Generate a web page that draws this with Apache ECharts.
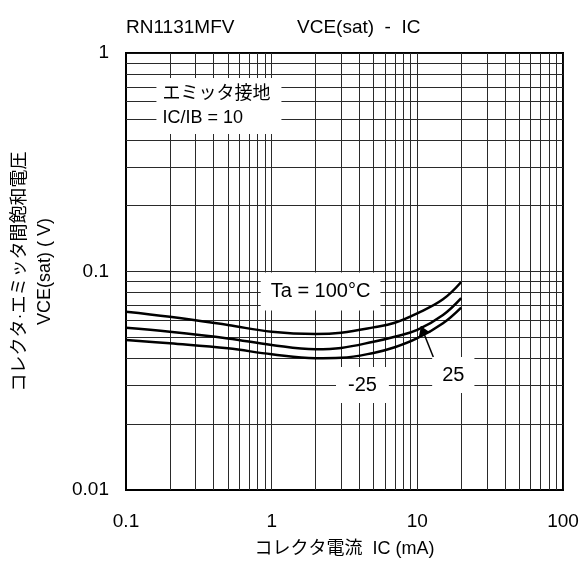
<!DOCTYPE html>
<html>
<head>
<meta charset="utf-8">
<script src="https://cdn.jsdelivr.net/npm/echarts@6/dist/echarts.min.js"></script>
<style>html,body{margin:0;padding:0;background:#fff}#c{width:584px;height:565px}</style>
</head>
<body>
<div id="c"></div>
<script>
// ---- data ----
var currentMA = [0.1, 0.2, 0.5, 1, 2, 3, 5, 7, 10, 15, 20];
var vce100 = [0.0655, 0.0621, 0.0569, 0.0530, 0.0518, 0.0525, 0.0555, 0.0583, 0.0644, 0.0746, 0.0895];
var vce25  = [0.0553, 0.0530, 0.0494, 0.0461, 0.0441, 0.0447, 0.0477, 0.0503, 0.0540, 0.0632, 0.0755];
var vceM25 = [0.0486, 0.0469, 0.0445, 0.0418, 0.0401, 0.0403, 0.0424, 0.0450, 0.0495, 0.0580, 0.0684];
var xTickLabels = {'-1': '0.1', '0': '1', '1': '10', '2': '100'};
var yTickLabels = {'-2': '0.01', '-1': '0.1', '0': '1'};
var xDecades = [0.1, 1, 10];
var yDecades = [0.01, 0.1];
var multiples = [1, 2, 3, 4, 5, 6, 7, 8, 9];

var FONT = "'Liberation Sans', 'Noto Sans CJK JP', sans-serif";
function pairs(xs, ys) { return xs.map(function (x, i) { return [x, ys[i]]; }); }
function gridValues(decades) {
  var out = [];
  decades.forEach(function (d) { multiples.forEach(function (m) { var v = +(d * m).toPrecision(3); out.push(v); }); });
  return out.slice(1);
}
var xGrid = gridValues(xDecades);
var yGrid = gridValues(yDecades);

var gridLineStyle = {color: '#2a2a2a', width: 1, type: 'solid'};
var gridMarks = xGrid.map(function (v) { return {xAxis: v}; })
  .concat(yGrid.map(function (v) { return {yAxis: v}; }));

function curve(name, ys) {
  return {
    name: name, type: 'line', data: pairs(currentMA, ys), smooth: 0.4,
    showSymbol: false, z: 5,
    lineStyle: {color: '#000', width: 2.5}
  };
}

var boxLabel = {show: true, color: '#000', fontFamily: FONT, backgroundColor: '#fff'};

var option = {
  animation: false,
  backgroundColor: '#fff',
  textStyle: {fontFamily: FONT},
  title: [
    {text: 'RN1131MFV', left: 121, top: 13, textStyle: {fontSize: 19, fontWeight: 'normal', color: '#000', fontFamily: FONT}},
    {text: 'VCE(sat)  -  IC', left: 292, top: 13, textStyle: {fontSize: 19, fontWeight: 'normal', color: '#000', fontFamily: FONT}}
  ],
  grid: {left: 125, right: 21, top: 53, bottom: 75, show: true, borderColor: '#000', borderWidth: 2},
  xAxis: {
    type: 'log', logBase: 10, min: 0.1, max: 100,
    name: 'コレクタ電流  IC (mA)', nameLocation: 'middle', nameGap: 50,
    nameTextStyle: {fontSize: 18, color: '#000', fontFamily: FONT},
    axisLine: {show: true, lineStyle: {color: '#000', width: 2}},
    axisTick: {show: false},
    splitLine: {show: true, lineStyle: {color: '#111', width: 1}},
    axisLabel: {
      fontSize: 19, color: '#000', margin: 22, fontFamily: FONT,
      formatter: function (v) { return xTickLabels[String(Math.round(Math.log10(v)))]; }
    }
  },
  yAxis: {
    type: 'log', logBase: 10, min: 0.01, max: 1,
    name: 'コレクタ·エミッタ間飽和電圧\nVCE(sat) ( V)', nameLocation: 'middle', nameGap: 68, nameRotate: 90,
    nameTextStyle: {fontSize: 18, color: '#000', lineHeight: 25, fontFamily: FONT},
    axisLine: {show: true, lineStyle: {color: '#000', width: 2}},
    axisTick: {show: false},
    splitLine: {show: true, lineStyle: {color: '#111', width: 1}},
    axisLabel: {
      fontSize: 19, color: '#000', margin: 17, fontFamily: FONT,
      formatter: function (v) { return yTickLabels[String(Math.round(Math.log10(v)))]; }
    }
  },
  series: [
    {
      type: 'line', data: [[0.1, 0.01]], showSymbol: false, silent: true, z: 1,
      lineStyle: {opacity: 0},
      markLine: {silent: true, symbol: 'none', label: {show: false}, lineStyle: gridLineStyle,
        emphasis: {disabled: true}, data: gridMarks, z: 1}
    },
    curve('Ta = 100°C', vce100),
    curve('25', vce25),
    curve('-25', vceM25),
    {
      type: 'line', data: [[0.1, 0.01]], showSymbol: false, silent: true, z: 10,
      lineStyle: {opacity: 0},
      markPoint: {
        silent: true, symbol: 'circle', symbolSize: 1, itemStyle: {color: 'rgba(0,0,0,0)'},
        data: [
          {coord: [0.1605, 0.572], label: Object.assign({}, boxLabel, {
            position: 'right', distance: 0, formatter: 'エミッタ接地\nIC/IB = 10',
            fontSize: 18, lineHeight: 24, padding: [4, 6, 4, 6], width: 113})},
          {coord: [2.166, 0.0810], label: Object.assign({}, boxLabel, {
            position: 'inside', formatter: 'Ta = 100°C', fontSize: 20, padding: [9, 10]})},
          {coord: [4.20, 0.03023], label: Object.assign({}, boxLabel, {
            position: 'inside', formatter: '-25', fontSize: 20, padding: [8, 12]})},
          {coord: [17.65, 0.0336], label: Object.assign({}, boxLabel, {
            position: 'inside', formatter: '25', fontSize: 20, padding: [8, 10]})}
        ]
      }
    },
    {
      type: 'line', data: [[0.1, 0.01]], showSymbol: false, silent: true, z: 12,
      lineStyle: {opacity: 0},
      markLine: {
        silent: true, symbol: ['none', 'arrow'], symbolSize: 10, label: {show: false},
        itemStyle: {color: '#000'},
        lineStyle: {color: '#000', width: 1.5, type: 'solid'}, emphasis: {disabled: true},
        data: [[{coord: [12.87, 0.0406]}, {coord: [10.6, 0.0562]}]]
      }
    }
  ]
};
var chart = echarts.init(document.getElementById('c'), null, {renderer: 'canvas'});
chart.setOption(option);
</script>
</body>
</html>
